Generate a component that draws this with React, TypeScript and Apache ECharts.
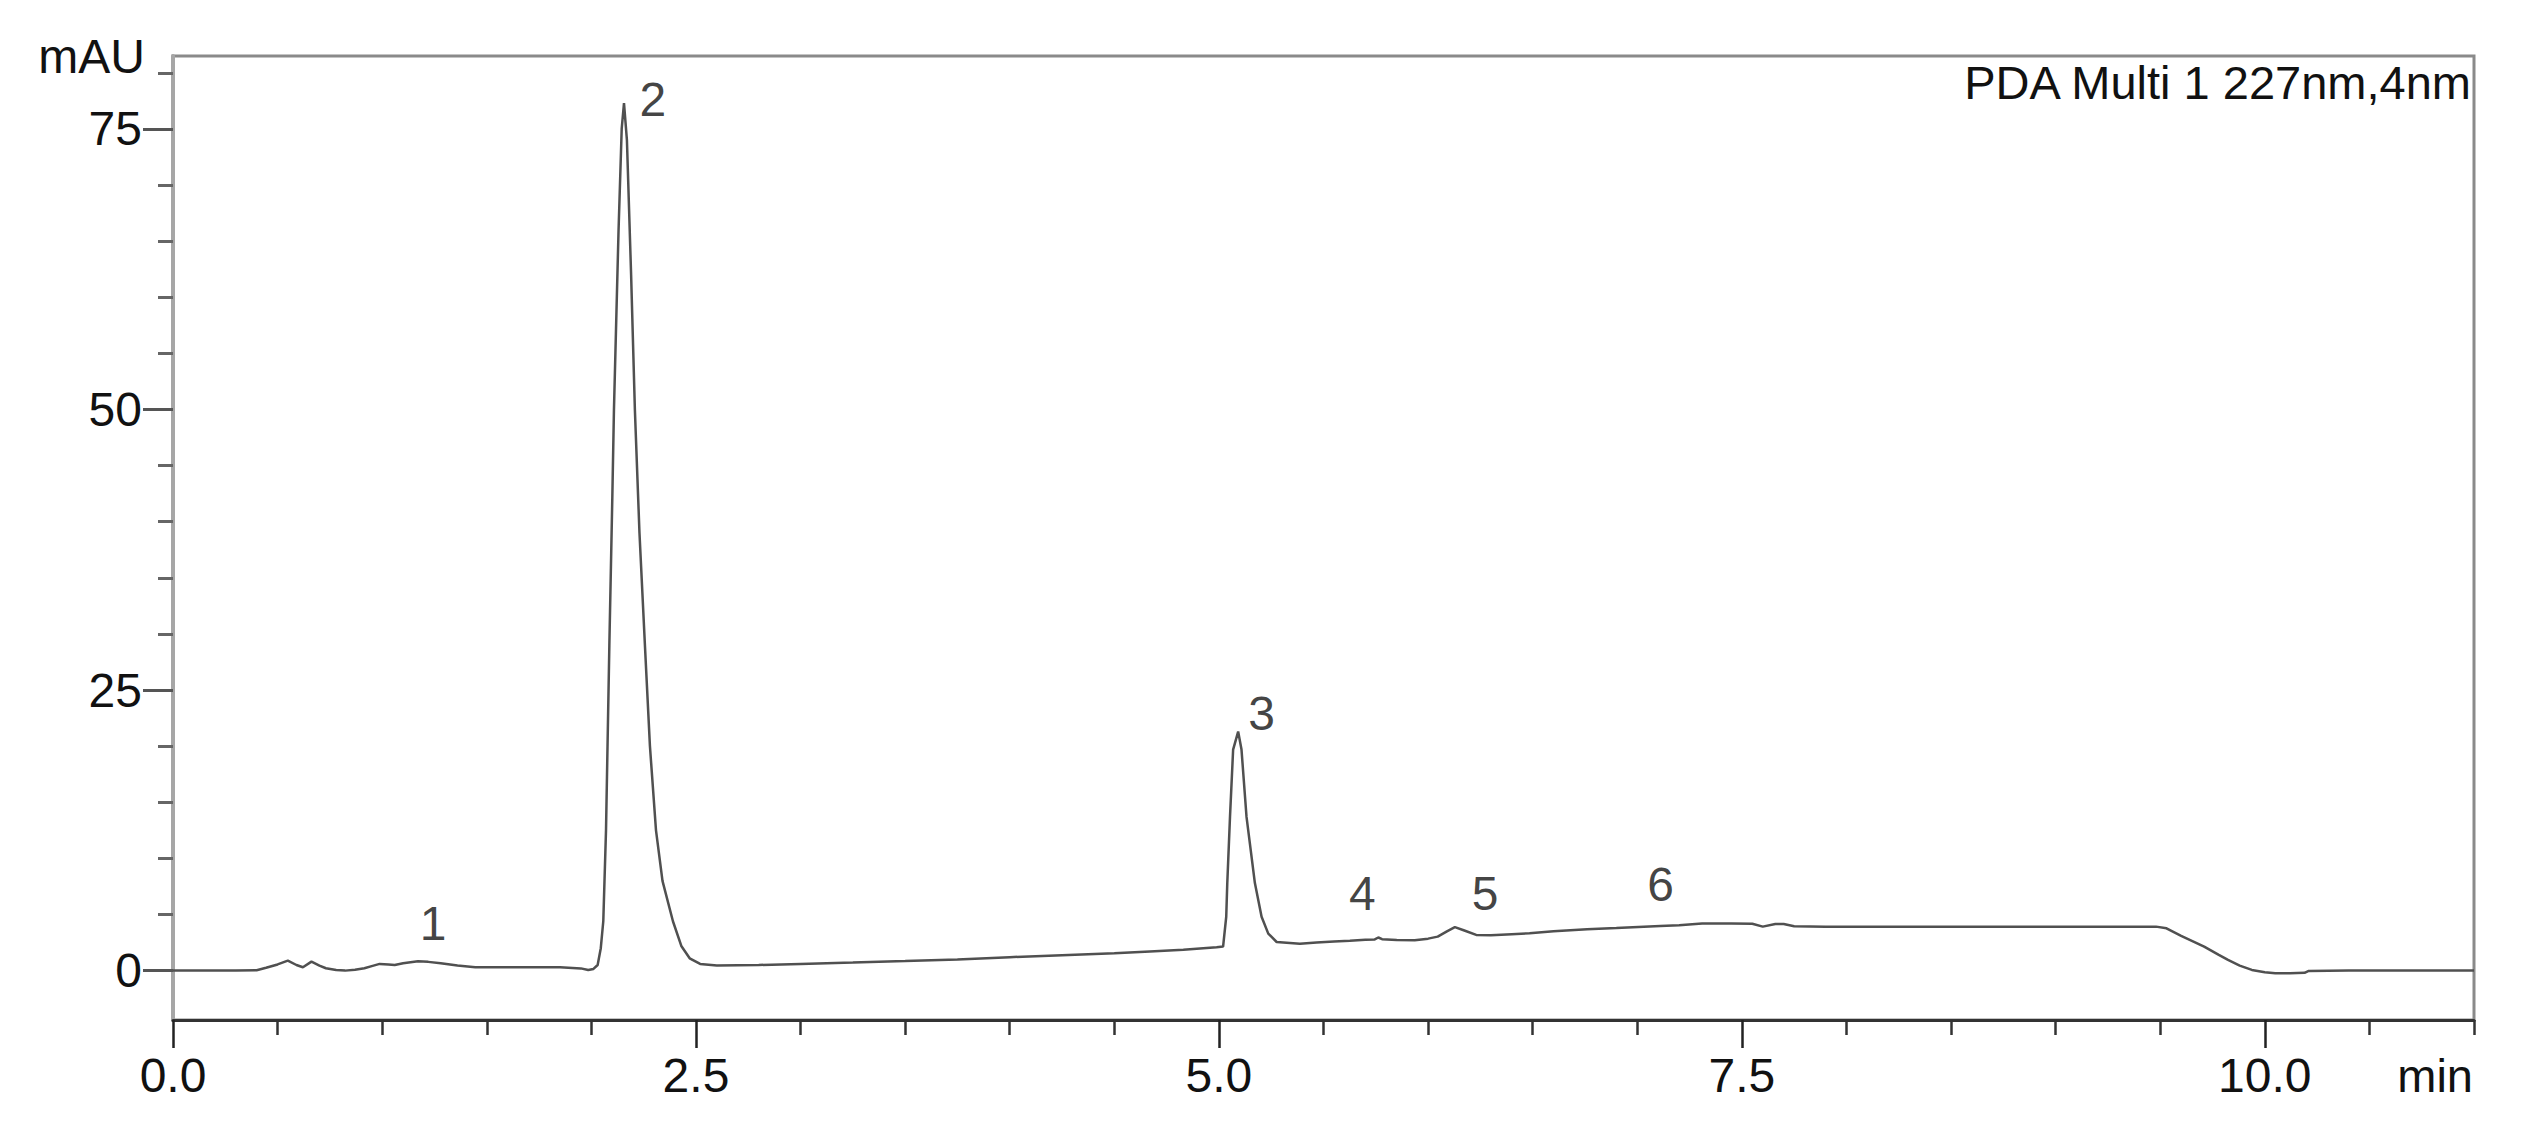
import React, { useEffect, useRef } from "react";
import * as echarts from "echarts";

// Retention time (min)
const times = [
  0.0, 0.1, 0.2, 0.3, 0.4, 0.445, 0.5, 0.549, 0.59, 0.621, 0.662, 0.7, 0.731, 0.78, 0.823, 0.87, 0.915, 0.95,
  0.988, 1.03, 1.06, 1.1, 1.171, 1.22, 1.28, 1.36, 1.445, 1.55, 1.7, 1.85, 1.95, 1.985, 2.01, 2.03, 2.045,
  2.057, 2.07, 2.086, 2.1, 2.108, 2.13, 2.145, 2.156, 2.17, 2.19, 2.208, 2.23, 2.256, 2.28, 2.309, 2.34, 2.39,
  2.43, 2.47, 2.52, 2.6, 2.8, 3.0, 3.25, 3.5, 3.75, 4.0, 4.25, 4.5, 4.67, 4.83, 4.989, 5.02, 5.035, 5.04,
  5.053, 5.068, 5.092, 5.108, 5.132, 5.172, 5.204, 5.236, 5.276, 5.387, 5.467, 5.55, 5.626, 5.7, 5.745, 5.762,
  5.78, 5.85, 5.936, 6.0, 6.046, 6.09, 6.128, 6.17, 6.23, 6.3, 6.4, 6.485, 6.6, 6.76, 6.9, 7.11, 7.2, 7.31,
  7.45, 7.55, 7.6, 7.66, 7.7, 7.75, 7.9, 8.2, 8.5, 8.8, 9.1, 9.3, 9.48, 9.53, 9.6, 9.71, 9.78, 9.824, 9.88,
  9.938, 10.0, 10.05, 10.12, 10.19, 10.21, 10.4, 10.7, 11.0,
];

// Detector signal (mAU)
const absorbance = [
  0.0, 0.0, 0.0, 0.0, 0.03, 0.25, 0.55, 0.89, 0.5, 0.3, 0.8, 0.45, 0.21, 0.05, 0.0, 0.08, 0.21, 0.4,
  0.6, 0.55, 0.5, 0.65, 0.83, 0.78, 0.65, 0.45, 0.3, 0.3, 0.3, 0.3, 0.2, 0.05, 0.15, 0.5, 2.0,
  4.4, 12.5, 29, 42, 50, 66, 75, 77.3, 74, 62, 50, 39, 29, 20, 12.5, 8, 4.4,
  2.2, 1.1, 0.6, 0.45, 0.5, 0.6, 0.72, 0.85, 1.0, 1.2, 1.38, 1.55, 1.7, 1.85, 2.08, 2.14, 4.8, 7.8,
  13.7, 19.7, 21.3, 19.7, 13.7, 7.8, 4.8, 3.3, 2.55, 2.4, 2.5, 2.6, 2.67, 2.75, 2.78, 2.95,
  2.8, 2.72, 2.7, 2.85, 3.03, 3.5, 3.87, 3.6, 3.18, 3.15, 3.25, 3.33, 3.5, 3.69, 3.8, 3.98, 4.05, 4.2,
  4.2, 4.18, 3.92, 4.16, 4.16, 3.95, 3.92, 3.9, 3.9, 3.9, 3.9, 3.9, 3.92, 3.77, 3.1, 2.14, 1.4, 0.95, 0.45,
  0.06, -0.15, -0.24, -0.24, -0.2, -0.03, 0.0, 0.0, 0.0,
];

// Peak numbering labels
const peakNames = ["1", "2", "3", "4", "5", "6"];
const peakLabelTimes = [1.243, 2.294, 5.204, 5.686, 6.272, 7.111];
const peakLabelLevels = [4.2, 77.6, 22.9, 6.9, 6.9, 7.7];

// Axis ticks
const xMajorTicks = [0, 2.5, 5, 7.5, 10];
const xMinorTicks = [0.5, 1, 1.5, 2, 3, 3.5, 4, 4.5, 5.5, 6, 6.5, 7, 8, 8.5, 9, 9.5, 10.5, 11];
const yMajorTicks = [0, 25, 50, 75];
const yMinorTicks = [5, 10, 15, 20, 30, 35, 40, 45, 55, 60, 65, 70, 80];

const X_MIN = 0;
const X_MAX = 11;
const Y_MIN = -4.4;
const Y_MAX = 81.5;

const FONT = '"Liberation Sans", Arial, sans-serif';

export default function App() {
  const ref = useRef<HTMLDivElement>(null);

  useEffect(() => {
    if (!ref.current) return;
    const chart = echarts.init(ref.current, null, { renderer: "svg" });

    const trace = times.map((t, i) => [t, absorbance[i]]);
    const labels = peakNames.map((n, i) => ({ name: n, value: [peakLabelTimes[i], peakLabelLevels[i]] }));

    chart.setOption({
      animation: false,
      backgroundColor: "#ffffff",
      grid: {
        left: 173,
        right: 72,
        top: 56,
        bottom: 111,
        show: true,
        borderColor: "#8a8a8a",
        borderWidth: 3,
        backgroundColor: "transparent",
      },
      xAxis: [
        {
          type: "value",
          min: X_MIN,
          max: X_MAX,
          position: "bottom",
          axisLine: { show: true, onZero: false, lineStyle: { color: "#333333", width: 3 } },
          axisTick: { show: true, customValues: xMajorTicks, length: 28, lineStyle: { color: "#222222", width: 2.5 } },
          axisLabel: {
            show: true,
            customValues: xMajorTicks,
            formatter: (v: number) => v.toFixed(1),
            fontSize: 48,
            fontFamily: FONT,
            color: "#111111",
            margin: 31,
          },
          splitLine: { show: false },
        },
        {
          type: "value",
          min: X_MIN,
          max: X_MAX,
          position: "bottom",
          offset: 0,
          axisLine: { show: false, onZero: false },
          axisTick: { show: true, customValues: xMinorTicks, length: 15, lineStyle: { color: "#333333", width: 2.5 } },
          axisLabel: { show: false },
          splitLine: { show: false },
        },
      ],
      yAxis: [
        {
          type: "value",
          min: Y_MIN,
          max: Y_MAX,
          position: "left",
          axisLine: { show: true, onZero: false, lineStyle: { color: "#a6a6a6", width: 4 } },
          axisTick: { show: true, customValues: yMajorTicks, length: 30, lineStyle: { color: "#555555", width: 3 } },
          axisLabel: {
            show: true,
            customValues: yMajorTicks,
            formatter: (v: number) => String(v),
            fontSize: 48,
            fontFamily: FONT,
            color: "#111111",
            margin: 31,
          },
          splitLine: { show: false },
        },
        {
          type: "value",
          min: Y_MIN,
          max: Y_MAX,
          position: "left",
          offset: 0,
          axisLine: { show: false, onZero: false },
          axisTick: { show: true, customValues: yMinorTicks, length: 15, lineStyle: { color: "#666666", width: 3 } },
          axisLabel: { show: false },
          splitLine: { show: false },
        },
      ],
      graphic: [
        {
          type: "text",
          x: 145,
          y: 56,
          style: { text: "mAU", fontSize: 48, fontFamily: FONT, fill: "#111111", align: "right", verticalAlign: "middle" },
        },
        {
          type: "text",
          x: 2473,
          y: 1075,
          style: { text: "min", fontSize: 47, fontFamily: FONT, fill: "#111111", align: "right", verticalAlign: "middle" },
        },
        {
          type: "text",
          x: 2471,
          y: 82,
          style: {
            text: "PDA Multi 1 227nm,4nm",
            fontSize: 47,
            fontFamily: FONT,
            fill: "#111111",
            align: "right",
            verticalAlign: "middle",
          },
        },
      ],
      series: [
        {
          type: "line",
          xAxisIndex: 0,
          yAxisIndex: 0,
          data: trace,
          showSymbol: false,
          symbol: "none",
          lineStyle: { color: "#505050", width: 2.5 },
          z: 3,
        },
        {
          type: "scatter",
          xAxisIndex: 0,
          yAxisIndex: 0,
          data: labels,
          symbolSize: 0,
          itemStyle: { color: "transparent" },
          label: {
            show: true,
            position: "inside",
            formatter: (p: any) => p.name,
            fontSize: 48,
            fontFamily: FONT,
            color: "#111111",
          },
          z: 4,
        },
      ],
    });

    return () => chart.dispose();
  }, []);

  return (
    <div
      ref={ref}
      style={{ position: "fixed", left: 0, top: 0, width: 2546, height: 1131, background: "#ffffff" }}
    />
  );
}
